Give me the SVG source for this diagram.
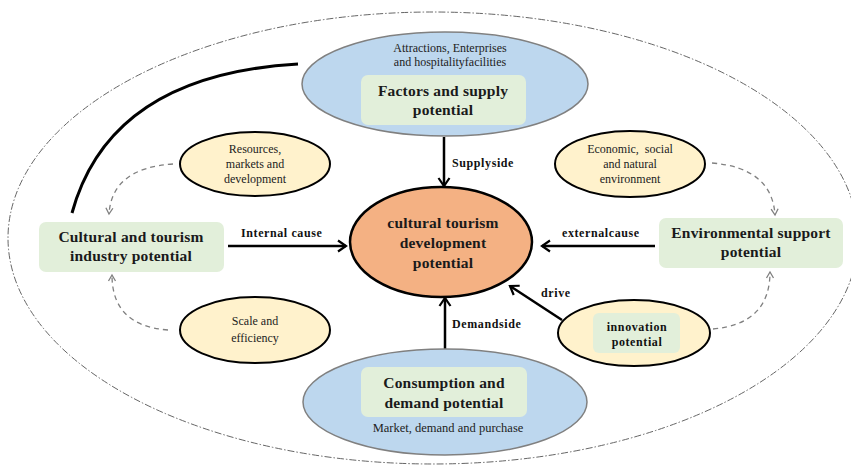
<svg xmlns="http://www.w3.org/2000/svg" width="851" height="468" viewBox="0 0 851 468">
<defs>
<marker id="ah" markerUnits="userSpaceOnUse" markerWidth="14" markerHeight="14" refX="11" refY="7" orient="auto">
<path d="M3,1.5 L11,7 L3,12.5" fill="none" stroke="#000" stroke-width="2.2"/>
</marker>
<marker id="ahg" markerUnits="userSpaceOnUse" markerWidth="10" markerHeight="10" refX="8" refY="5" orient="auto">
<path d="M2,1.5 L8,5 L2,8.5" fill="none" stroke="#7f7f7f" stroke-width="1.3"/>
</marker>
</defs>
<style>
.blue{fill:#bdd7ee;stroke:#808080;stroke-width:1.5}
.yel{fill:#fff2cc;stroke:#000;stroke-width:2}
.grn{fill:#e2efda;stroke:none}
.big{font-family:"Liberation Serif",serif;font-weight:bold;font-size:15.5px;fill:#1a1a1a;text-anchor:middle;letter-spacing:0.2px}
.sm{font-family:"Liberation Serif",serif;font-size:12px;fill:#222;text-anchor:middle;white-space:pre}
.lbl{font-family:"Liberation Serif",serif;font-weight:bold;font-size:12px;fill:#111;letter-spacing:0.6px}
.ar{stroke:#000;stroke-width:2.5;fill:none;marker-end:url(#ah)}
.da{stroke:#808080;stroke-width:1.3;fill:none;stroke-dasharray:5 4;marker-end:url(#ahg)}
</style>
<rect width="851" height="468" fill="#fff"/>
<ellipse id="boundary" cx="433" cy="238" rx="425" ry="226" fill="none" stroke="#666" stroke-width="1" stroke-dasharray="7 2 1.5 2"/>
<g id="connectors">
<path d="M72,213 Q110,75 298,64" fill="none" stroke="#000" stroke-width="3"/>
<line class="ar" x1="444" y1="137" x2="444" y2="186"/>
<line class="ar" x1="228" y1="246" x2="346" y2="246"/>
<line class="ar" x1="655" y1="246" x2="542" y2="246"/>
<line class="ar" x1="445" y1="350" x2="445" y2="298"/>
<line class="ar" x1="562" y1="320" x2="510" y2="286"/>
<path class="da" d="M173,164 Q112,168 109,214"/>
<path class="da" d="M168,330 Q112,326 112,275"/>
<path class="da" d="M712,163 Q772,168 775,215"/>
<path class="da" d="M713,329 Q770,324 770,272"/>
<text class="lbl" x="452" y="167">Supplyside</text>
<text class="lbl" x="241" y="237">Internal cause</text>
<text class="lbl" x="562" y="237">externalcause</text>
<text class="lbl" x="541" y="297">drive</text>
<text class="lbl" x="452" y="328">Demandside</text>
</g>
<g id="supply">
<ellipse class="blue" cx="445" cy="84" rx="143" ry="52"/>
<text class="sm" x="450" y="52">Attractions, Enterprises</text>
<text class="sm" x="450" y="66">and hospitalityfacilities</text>
<rect class="grn" x="361" y="75" width="165" height="50" rx="7"/>
<text class="big" x="443" y="96">Factors and supply</text>
<text class="big" x="443" y="115">potential</text>
</g>
<g id="center">
<ellipse cx="441" cy="242" rx="91" ry="55" fill="#f4b183" stroke="#000" stroke-width="2.5"/>
<text class="big" x="443" y="228">cultural tourism</text>
<text class="big" x="443" y="248">development</text>
<text class="big" x="443" y="268">potential</text>
</g>
<g id="industry">
<rect class="grn" x="39" y="222" width="185" height="50" rx="7"/>
<text class="big" x="131" y="242">Cultural and tourism</text>
<text class="big" x="131" y="261">industry potential</text>
</g>
<g id="resources">
<ellipse class="yel" cx="255" cy="164" rx="75" ry="32"/>
<text class="sm" x="255" y="153">Resources,</text>
<text class="sm" x="255" y="168">markets and</text>
<text class="sm" x="255" y="183">development</text>
</g>
<g id="scale">
<ellipse class="yel" cx="255" cy="330" rx="75" ry="33"/>
<text class="sm" x="255" y="325">Scale and</text>
<text class="sm" x="255" y="342">efficiency</text>
</g>
<g id="economic">
<ellipse class="yel" cx="630" cy="164" rx="75" ry="33"/>
<text class="sm" x="630" y="153">Economic,&#160; social</text>
<text class="sm" x="630" y="168">and natural</text>
<text class="sm" x="630" y="183">environment</text>
</g>
<g id="environment">
<rect class="grn" x="659" y="218" width="184" height="50" rx="7"/>
<text class="big" x="751" y="238">Environmental support</text>
<text class="big" x="751" y="257">potential</text>
</g>
<g id="innovation">
<ellipse class="yel" cx="634" cy="333" rx="76" ry="33"/>
<rect class="grn" x="593" y="313" width="87" height="40" rx="6"/>
<text class="lbl" x="637" y="331" text-anchor="middle">innovation</text>
<text class="lbl" x="637" y="346" text-anchor="middle">potential</text>
</g>
<g id="demand">
<ellipse class="blue" cx="445" cy="402" rx="142" ry="53"/>
<rect class="grn" x="361" y="367" width="166" height="50" rx="7"/>
<text class="big" x="444" y="388">Consumption and</text>
<text class="big" x="444" y="408">demand potential</text>
<text class="sm" x="448" y="432" style="font-size:12.5px">Market, demand and purchase</text>
</g>
</svg>
